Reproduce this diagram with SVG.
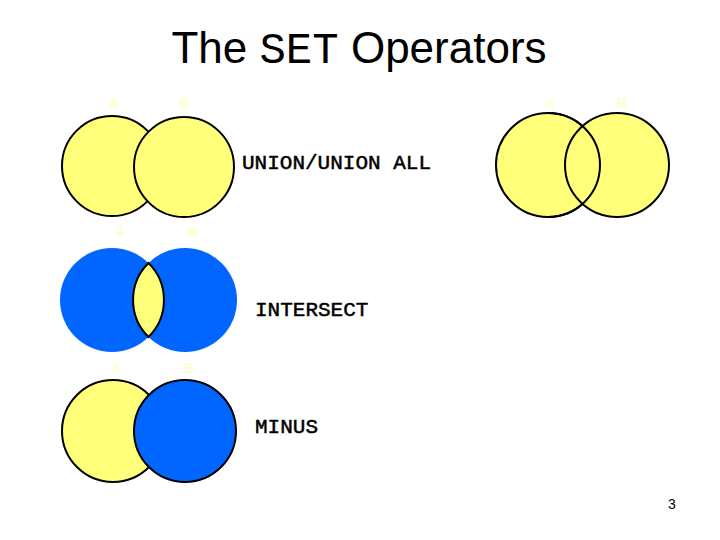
<svg xmlns="http://www.w3.org/2000/svg" width="720" height="540" viewBox="0 0 720 540">
<style>
.y{fill:#FFFF7A;stroke:#000;stroke-width:2}
.b{fill:#0066FF;stroke:#000;stroke-width:2}
.bn{fill:#0066FF;stroke:none}
.lbl{font-family:"Liberation Sans",Arial,sans-serif;font-size:14px;font-weight:bold;fill:#FFFFCC;text-anchor:middle}
.op{font-family:"Liberation Mono","Courier New",monospace;font-size:21px;fill:#000;stroke:#000;stroke-width:0.5}
.t{font-family:"Liberation Sans",Arial,sans-serif;font-size:44px;fill:#000}
.mono{font-family:"Liberation Mono","Courier New",monospace}
</style>
<rect width="720" height="540" fill="#fff"/>
<text class="t" x="359" y="63" text-anchor="middle">The <tspan class="mono">SET</tspan> Operators</text>
<g id="union">
<circle class="y" cx="112" cy="166" r="50"/>
<circle class="y" cx="184" cy="167" r="50"/>
<text class="lbl" x="114" y="108">A</text>
<text class="lbl" x="184" y="108">B</text>
</g>
<g id="union-all">
<circle class="y" cx="548" cy="165" r="52"/>
<circle class="y" cx="617" cy="165" r="52"/>
<path d="M548,113 A52,52 0 0,1 548,217" fill="none" stroke="#000" stroke-width="2"/>
<text class="lbl" x="550" y="108">A</text>
<text class="lbl" x="622" y="108">B</text>
</g>
<g id="intersect">
<circle class="bn" cx="112" cy="300" r="52"/>
<circle class="bn" cx="185" cy="300" r="52"/>
<path d="M148.5,263 A52,52 0 0,1 148.5,337 A52,52 0 0,1 148.5,263 Z" fill="#FFFF7A" stroke="#000" stroke-width="2"/>
<text class="lbl" x="120" y="237">A</text>
<text class="lbl" x="193" y="237">B</text>
</g>
<g id="minus">
<circle class="y" cx="113" cy="431" r="51"/>
<circle class="b" cx="185" cy="431" r="51"/>
<text class="lbl" x="116" y="373">A</text>
<text class="lbl" x="189" y="373">B</text>
</g>
<g id="labels">
<text class="op" x="242" y="169">UNION/UNION ALL</text>
<text class="op" x="255" y="316">INTERSECT</text>
<text class="op" x="255" y="433">MINUS</text>
<text x="672" y="509" text-anchor="middle" font-family="Liberation Sans, Arial, sans-serif" font-size="14" fill="#000">3</text>
</g>
</svg>
